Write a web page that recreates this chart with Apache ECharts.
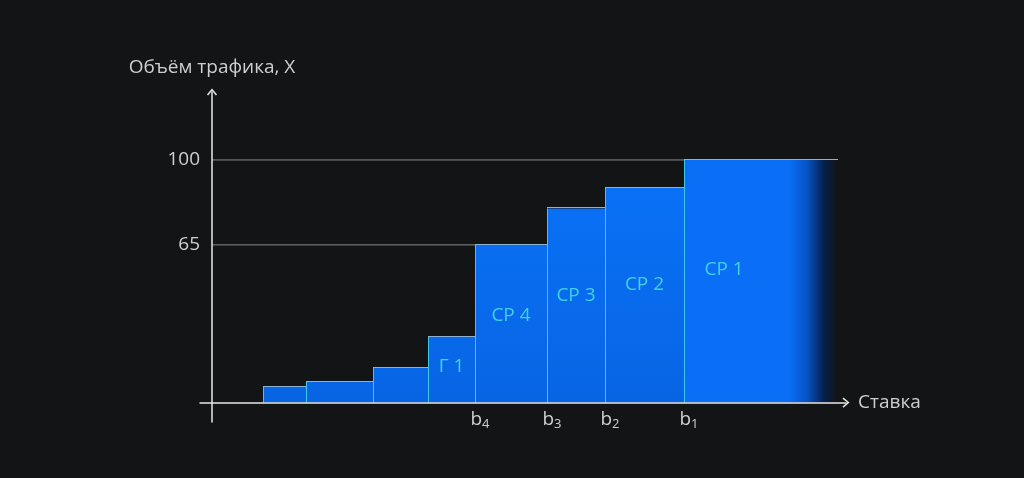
<!DOCTYPE html>
<html><head><meta charset="utf-8">
<script src="https://cdn.jsdelivr.net/npm/echarts@6/dist/echarts.min.js"></script>
<style>html,body{margin:0;background:#131416}#c{width:1024px;height:478px}</style>
</head><body><div id="c"></div>
<script>
// ---- data ----
const barEdges = [51, 94, 161, 216, 263, 335, 393, 472, 626];   // rate (x) boundaries
const barValues = [6.4, 8.5, 14.3, 27, 65, 80, 88.5, 100];       // traffic volume
const barLabels = ['', '', '', 'Г 1', 'СР 4', 'СР 3', 'СР 2', 'СР 1'];
const rateTicks = [263, 335, 393, 472];
const rateTickSubs = ['4', '3', '2', '1'];
const volumeTicks = [65, 100];
const guideLevels = [100, 65];

const FONT = '"Open Sans", "Noto Sans", sans-serif';
const TXT = '#cfcfcf';
const AXIS = '#e8e8e8';
const BG = '#131416';

const chart = echarts.init(document.getElementById('c'), null, {renderer: 'canvas'});

const barData = barValues.map((v, i) => [barEdges[i], barEdges[i + 1], v, barLabels[i]]);

function crisp(x) { return Math.round(x) + 0.5; }

function renderItem(params, api) {
  const i = params.dataIndex;
  const x0 = api.value(0), x1 = api.value(1), v = api.value(2);
  const p0 = api.coord([x0, v]);
  const p1 = api.coord([x1, 0]);
  const left = p0[0], top = p0[1], right = p1[0], bottom = p1[1];
  const w = right - left, h = bottom - top;
  const last = i === barValues.length - 1;
  const yTop = api.coord([0, 100])[1], yBot = api.coord([0, 0])[1];
  let fill;
  if (last) {
    fill = new echarts.graphic.LinearGradient(0, 0, 1, 0, [
      {offset: 0, color: '#0a6ff6'},
      {offset: 0.68, color: '#0a6ff6'},
      {offset: 0.8, color: '#0752c4'},
      {offset: 0.91, color: '#05204a'},
      {offset: 1, color: BG}
    ]);
  } else {
    fill = {type: 'linear', global: true, x: 0, y: yTop, x2: 0, y2: yBot,
      colorStops: [{offset: 0, color: '#0a72f8'}, {offset: 1, color: '#0765e4'}]};
  }
  const children = [
    {type: 'rect', shape: {x: left, y: top, width: w, height: h}, style: {fill: fill}},
    {type: 'line', shape: {x1: crisp(left), y1: top, x2: crisp(left), y2: bottom},
      style: {stroke: '#3fc8ec', lineWidth: 1}},
    {type: 'line', shape: {x1: left, y1: crisp(top) - 1, x2: right, y2: crisp(top) - 1},
      style: {stroke: '#8fb0d0', lineWidth: 1}}
  ];
  if (!last) {
    children.push({type: 'line', shape: {x1: crisp(right), y1: top, x2: crisp(right), y2: bottom},
      style: {stroke: '#3fc8ec', lineWidth: 1}});
  }
  const label = api.value(3);
  if (label) {
    const cx = last ? left + w * 0.26 : left + w / 2;
    children.push({type: 'text', x: cx, y: top + h * 0.45,
      style: {text: label, fill: '#42d2e2', font: '19px ' + FONT, align: 'center', verticalAlign: 'middle'}});
  }
  return {type: 'group', children: children};
}

const guideSeries = guideLevels.map(level => {
  const idx = barValues.indexOf(level);
  return {
    type: 'line', z: 1, symbol: 'none', silent: true, animation: false,
    lineStyle: {color: '#8a8a8a', width: 1},
    data: [[0, level], [barEdges[idx + 1], level]]
  };
});

const arrow = 'path://M5,0 L10,6 L8.8,6.9 L5,2.2 L1.2,6.9 L0,6 Z';

chart.setOption({
  backgroundColor: BG,
  animation: false,
  grid: {left: 200, right: 178, top: 92, bottom: 56},
  xAxis: {
    type: 'value', min: -12, max: 634, z: 10,
    axisLine: {show: true, onZero: true, symbol: ['none', arrow], symbolSize: [11, 7],
      lineStyle: {color: AXIS, width: 1.5}},
    axisTick: {show: false}, splitLine: {show: false},
    axisLabel: {
      customValues: rateTicks, margin: -14, color: TXT,
      formatter: v => '{b|b}{s|' + rateTickSubs[rateTicks.indexOf(v)] + '}',
      rich: {
        b: {fontSize: 19, fontFamily: FONT, color: TXT, lineHeight: 24, padding: [0, 0, 0, 10]},
        s: {fontSize: 13, fontFamily: FONT, color: TXT, lineHeight: 24, padding: [9, 0, 0, 0]}
      }
    },
    name: 'Ставка', nameLocation: 'end', nameGap: 12,
    nameTextStyle: {color: TXT, fontSize: 19, fontFamily: FONT, verticalAlign: 'middle', align: 'left'}
  },
  yAxis: {
    type: 'value', min: -8, max: 128, z: 10,
    axisLine: {show: true, onZero: true, symbol: ['none', arrow], symbolSize: [11, 7],
      lineStyle: {color: AXIS, width: 1.5}},
    axisTick: {show: false}, splitLine: {show: false},
    axisLabel: {customValues: volumeTicks, margin: 0, color: TXT, fontSize: 19, fontFamily: FONT,
      padding: [6, 0, 0, 0]},
    name: 'Объём трафика, Х', nameLocation: 'end', nameGap: 15,
    nameTextStyle: {color: TXT, fontSize: 19, fontFamily: FONT}
  },
  series: guideSeries.concat([{
    type: 'custom', z: 2, renderItem: renderItem, data: barData,
    encode: {x: [0, 1], y: 2}
  }])
});
</script></body></html>
